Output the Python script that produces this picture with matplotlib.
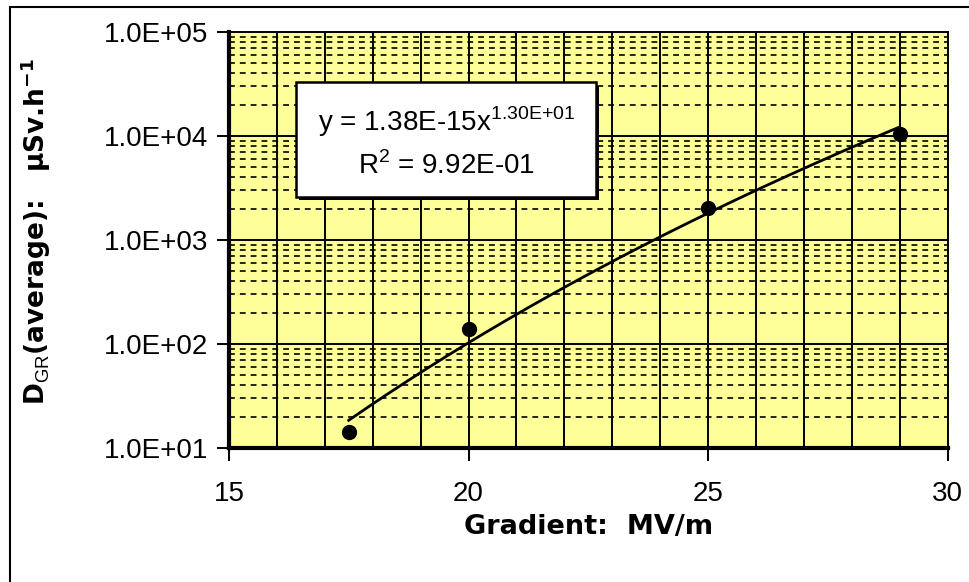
import numpy as np
import matplotlib
matplotlib.use("Agg")
import matplotlib.pyplot as plt
from matplotlib.patches import Rectangle
from matplotlib.ticker import FixedLocator, LogLocator, NullFormatter, FuncFormatter

# Data (gradient in MV/m, dose rate in uSv/h)
gradient = [17.5, 20.0, 25.0, 29.0]
dose_rate = [14.3, 139.0, 2040.0, 10400.0]

x_ticks = [15, 20, 25, 30]
y_ticks = [1e1, 1e2, 1e3, 1e4, 1e5]
eq_text = r"y = 1.38E-15x$^{\rm 1.30E{+}01}$"
r2_text = r"R$^{\rm 2}$ = 9.92E-01"

plt.rcParams['mathtext.fontset'] = 'custom'
plt.rcParams['mathtext.rm'] = 'Liberation Sans'
plt.rcParams['mathtext.bf'] = 'DejaVu Sans:bold'

fig = plt.figure(figsize=(9.7, 5.82), dpi=100)
ax = fig.add_axes([0.236, 0.2302, 0.741, 0.7148])
ax.set_facecolor('#FFFF99')

# power-law trend line fitted in log-log space like the spreadsheet does
b, log_a = np.polyfit(np.log(gradient), np.log(dose_rate), 1)
x_fit = np.linspace(min(gradient), max(gradient), 200)
y_fit = np.exp(log_a) * x_fit ** b

ax.plot(x_fit, y_fit, color='black', lw=2.0, zorder=4)
ax.plot(gradient, dose_rate, 'o', color='black', ms=10, zorder=5)

ax.set_yscale('log')
ax.set_xlim(15, 30)
ax.set_ylim(1e1, 1e5)
ax.xaxis.set_major_locator(FixedLocator(x_ticks))
ax.xaxis.set_minor_locator(FixedLocator(np.arange(16, 30)))
ax.yaxis.set_major_locator(FixedLocator(y_ticks))
ax.yaxis.set_minor_locator(LogLocator(base=10, subs=np.arange(2, 10)))
ax.yaxis.set_minor_formatter(NullFormatter())
ax.yaxis.set_major_formatter(FuncFormatter(lambda v, p: "1.0E+%02d" % round(np.log10(v))))

ax.grid(True, which='major', axis='both', color='black', lw=1.4)
ax.grid(True, which='minor', axis='x', color='black', lw=1.4)
ax.grid(True, which='minor', axis='y', color='black', lw=1.2, ls=(0, (3.5, 3)))
ax.set_axisbelow(True)

ax.tick_params(axis='both', which='major', direction='out', length=9, width=1.4,
               labelsize=20)
ax.tick_params(axis='y', which='major', pad=6)
ax.tick_params(axis='x', which='major', pad=15)
ax.tick_params(axis='both', which='minor', length=0)
for lab in ax.get_xticklabels() + ax.get_yticklabels():
    lab.set_family('Liberation Sans')

for side in ['left', 'bottom']:
    ax.spines[side].set_linewidth(3)
for side in ['right', 'top']:
    ax.spines[side].set_linewidth(1.4)

ax.set_xlabel("Gradient:  MV/m", fontsize=19.5, fontweight='bold',
              family='DejaVu Sans', labelpad=5)
ax.set_ylabel(r"D$_{\rm GR}$(average):   µSv.h$^{\mathbf{-1}}$", fontsize=19,
              fontweight='bold', family='DejaVu Sans', labelpad=14)
ax.yaxis.set_label_coords(-0.245, 0.52)

# equation box with a small drop shadow
box_x, box_y, box_w, box_h = 0.094, 0.603, 0.417, 0.276
ax.add_patch(Rectangle((box_x + 0.004, box_y - 0.008), box_w, box_h, transform=ax.transAxes,
                       facecolor='black', edgecolor='none', zorder=6))
ax.add_patch(Rectangle((box_x, box_y), box_w, box_h, transform=ax.transAxes,
                       facecolor='white', edgecolor='black', lw=1.8, zorder=7))
ax.text(box_x + box_w / 2, box_y + box_h * 0.66, eq_text, transform=ax.transAxes,
        ha='center', va='center', fontsize=20, family='Liberation Sans', zorder=8)
ax.text(box_x + box_w / 2, box_y + box_h * 0.27, r2_text, transform=ax.transAxes,
        ha='center', va='center', fontsize=20, family='Liberation Sans', zorder=8)

# outer chart-area frame
fig.add_artist(Rectangle((10 / 970, -0.05), 1.1, 1 - 7 / 582 + 0.05, transform=fig.transFigure,
                         facecolor='none', edgecolor='black', lw=1.5))

fig.savefig('out.png', dpi=100)
